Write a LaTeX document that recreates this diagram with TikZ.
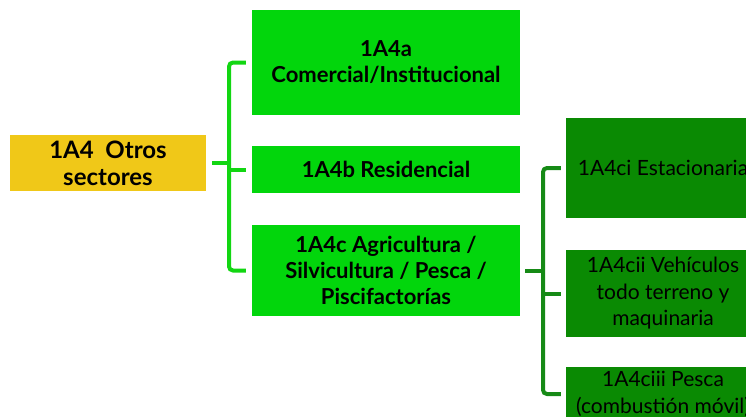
\documentclass[tikz,border=0pt]{standalone}
\usepackage{fontspec}
\setmainfont{Lato}
\definecolor{ylw}{HTML}{F0C818}
\definecolor{lgreen}{HTML}{02D60C}
\definecolor{dgreen}{HTML}{0A8A03}
\definecolor{lline}{HTML}{12D612}
\definecolor{dline}{HTML}{168A16}
\tikzset{
  box/.style={rectangle, inner sep=2pt, align=center, text=black},
  rootbox/.style={box, fill=ylw, font=\bfseries\fontsize{24}{27}\selectfont},
  lbox/.style={box, fill=lgreen, minimum width=268, font=\bfseries\fontsize{22}{26}\selectfont},
  dbox/.style={box, fill=dgreen, minimum width=194, font=\fontsize{21}{26.5}\selectfont},
  lconn/.style={draw=lline, line width=4pt},
  dconn/.style={draw=dline, line width=4pt}
}
\begin{document}
\begin{tikzpicture}[x=1pt,y=-1pt]
\useasboundingbox (0,0) rectangle (746,416);
\node[rootbox, minimum width=196, minimum height=56] (root) at (108,163) {1A4~~Otros\\sectores};
\node[lbox, minimum height=105] (a) at (386,62.5) {1A4a\\Comercial/Institucional};
\node[lbox, minimum height=47] (b) at (386,169.5) {1A4b Residencial};
\node[lbox, minimum height=91] (c) at (386,270.5) {1A4c Agricultura /\\Silvicultura / Pesca /\\Piscifactorías};
\node[dbox, minimum height=100] (ci) at (663,168) {1A4ci Estacionaria};
\node[dbox, minimum height=87] (cii) at (663,293.5) {1A4cii Vehículos\\todo terreno y\\maquinaria};
\node[dbox, minimum height=54] (ciii) at (663,394) {1A4ciii Pesca\\(combustión móvil)};
\coordinate (j1) at (229,163);
\coordinate (j2) at (543,270.5);
\draw[lconn] ([xshift=6]root.east) -- (j1);
\draw[lconn, rounded corners=4] ([xshift=-6]a.west) -| (j1) |- ([xshift=-6]c.west);
\draw[lconn] (j1 |- b.west) -- ([xshift=-6]b.west);
\draw[dconn] ([xshift=5]c.east) -- (j2);
\draw[dconn, rounded corners=4] ([xshift=-5]ci.west) -| (j2) |- ([xshift=-5]ciii.west);
\draw[dconn] (j2 |- cii.west) -- ([xshift=-5]cii.west);
\end{tikzpicture}
\end{document}
